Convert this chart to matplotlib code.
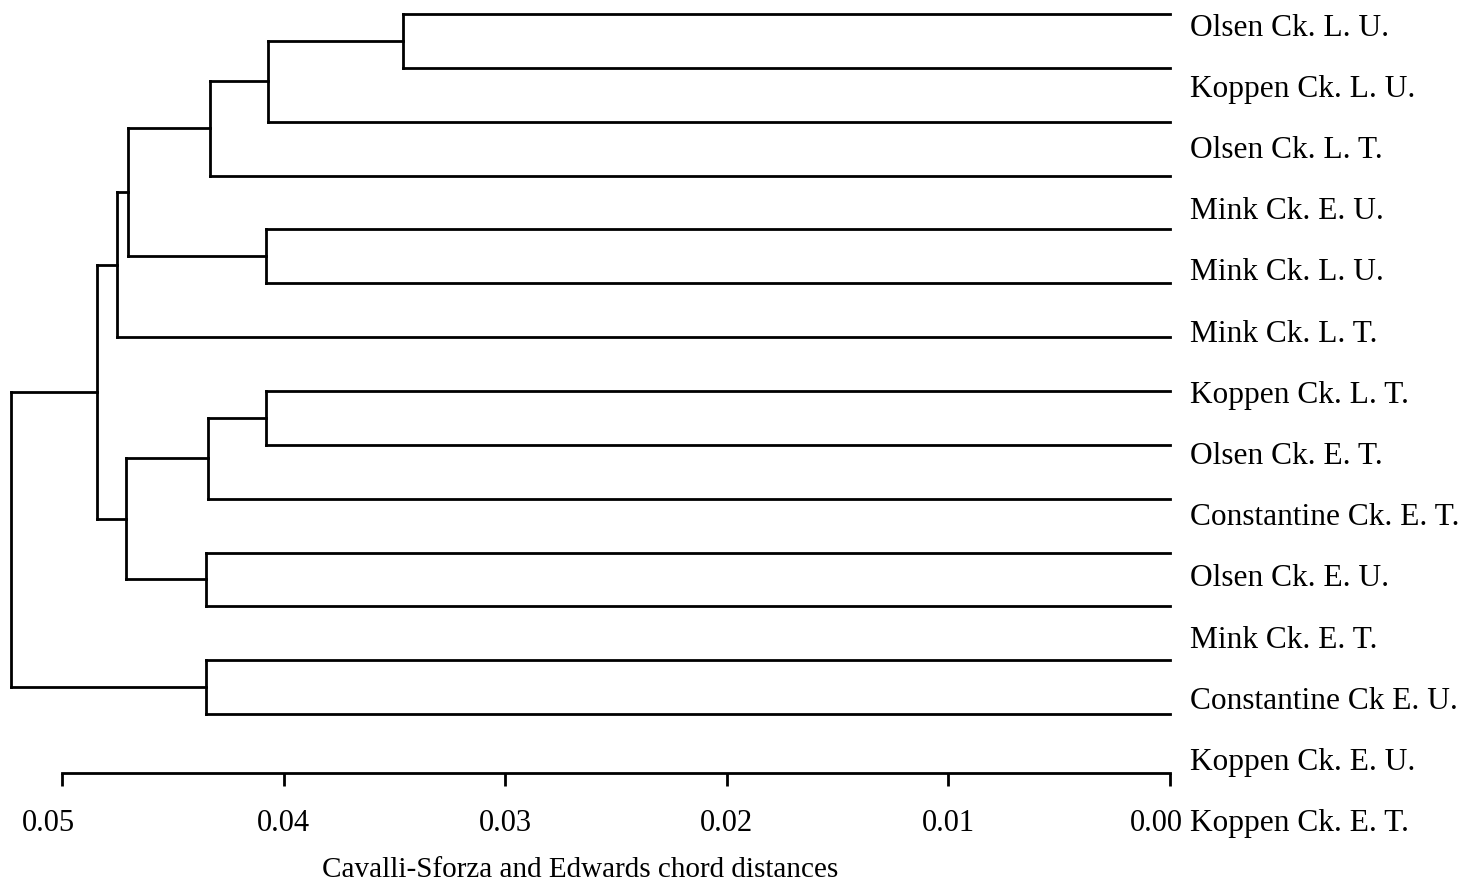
import numpy as np
import matplotlib.pyplot as plt
from matplotlib.transforms import ScaledTranslation

plt.rcParams['font.family'] = ['Liberation Serif', 'DejaVu Serif']

# leaf order, top to bottom (labels sit slightly offset from the branch tips, as in the scan)
labels = ["Olsen Ck. L. U.", "Koppen Ck. L. U.", "Olsen Ck. L. T.", "Mink Ck. E. U.",
          "Mink Ck. L. U.", "Mink Ck. L. T.", "Koppen Ck. L. T.", "Olsen Ck. E. T.",
          "Constantine Ck. E. T.", "Olsen Ck. E. U.", "Mink Ck. E. T.",
          "Constantine Ck E. U.", "Koppen Ck. E. U.", "Koppen Ck. E. T."]

# linkage: node 14+k joins merge_a[k] and merge_b[k] at merge_dist[k]
merge_a = [0, 14, 15, 4, 16, 18, 7, 20, 10, 21, 19, 12, 24]
merge_b = [1, 2, 3, 5, 17, 6, 8, 9, 11, 22, 23, 13, 25]
merge_dist = [0.0346, 0.0407, 0.0433, 0.0408, 0.0470, 0.0475, 0.0408,
              0.0434, 0.0435, 0.0471, 0.0484, 0.0435, 0.0523]

ticks = [0.05, 0.04, 0.03, 0.02, 0.01, 0.00]
xlabel = "Cavalli-Sforza and Edwards chord distances"

fig = plt.figure(figsize=(14.64, 8.86), dpi=100)
ax = fig.add_axes([0, 0.1275, 1, 0.8725])

n = len(labels)
ypos = {i: float(i) for i in range(n)}
hgt = {i: 0.0 for i in range(n)}
lw = 2.0
for k, (a, b, d) in enumerate(zip(merge_a, merge_b, merge_dist)):
    node = n + k
    for c in (a, b):
        ax.plot([hgt[c], d], [ypos[c], ypos[c]], color='black', lw=lw,
                solid_capstyle='projecting')
    ax.plot([d, d], [ypos[a], ypos[b]], color='black', lw=lw,
            solid_capstyle='projecting')
    ypos[node] = (ypos[a] + ypos[b]) / 2
    hgt[node] = d

# leaf labels
for i, lab in enumerate(labels):
    ax.text(-0.0009, 0.26 + i * 1.1365, lab, fontsize=22.6, ha='left', va='center')

ax.set_xlim(0.05 + 62 / 22160, -(1464 - 1170) / 22160)
ax.set_ylim(14.094, -0.26)

for s in ['top', 'left', 'right']:
    ax.spines[s].set_visible(False)
ax.spines['bottom'].set_bounds(0.0, 0.05)
ax.spines['bottom'].set_linewidth(2)
ax.set_yticks([])
ax.set_xticks(ticks)
ax.set_xticklabels([f"{t:.2f}" for t in ticks], fontsize=22)
ax.tick_params(axis='x', direction='out', length=9, width=2, pad=17)

# first and last tick labels sit a little left of their ticks in the original
tl = ax.get_xticklabels()
for idx in (0, -1):
    tl[idx].set_transform(tl[idx].get_transform() +
                          ScaledTranslation(-14 / 100, 0, fig.dpi_scale_trans))

ax.set_xlabel(xlabel, fontsize=21)
ax.xaxis.set_label_coords(0.396, -0.125)
ax.xaxis.label.set_va('center')

fig.savefig('out.png', dpi=100, facecolor='white')
